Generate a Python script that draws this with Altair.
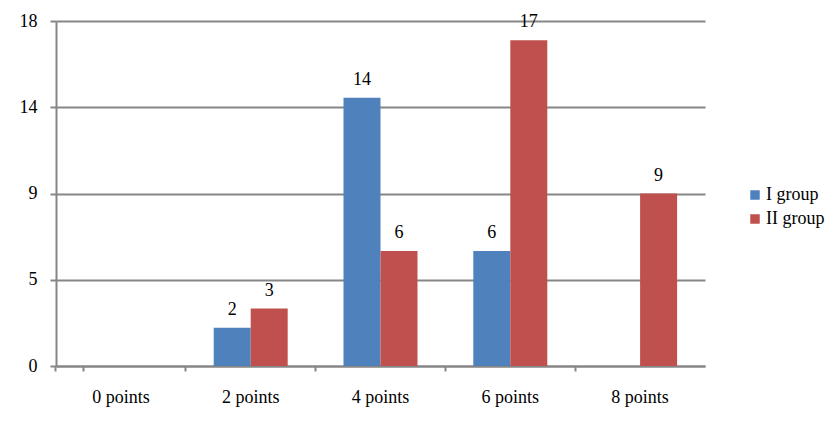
import altair as alt
import pandas as pd

categories = ["0 points", "2 points", "4 points", "6 points", "8 points"]
groups = ["I group", "II group"]
group1 = [0, 2, 14, 6, 0]
group2 = [0, 3, 6, 17, 9]
y_ticks = [0, 4.5, 9, 13.5, 18]
colors = ["#4F81BD", "#C0504D"]

rows = []
for c, a, b in zip(categories, group1, group2):
    rows.append({"cat": c, "group": groups[0], "value": a})
    rows.append({"cat": c, "group": groups[1], "value": b})
df = pd.DataFrame(rows)

FONT = "Liberation Serif"
GRID = "#868686"
PI = 0.43
FS = 18

x = alt.X("cat:N", sort=categories,
          scale=alt.Scale(paddingInner=PI, paddingOuter=PI / 2),
          axis=alt.Axis(title=None, labelAngle=0, labelFont=FONT, labelFontSize=FS,
                        labelColor="#000000", labelPadding=17,
                        bandPosition=-(PI / 2) / (1 - PI), tickExtra=True,
                        tickSize=5, tickColor=GRID, tickWidth=2,
                        domainColor=GRID, domainWidth=2, grid=False))
xo = alt.XOffset("group:N", sort=groups, scale=alt.Scale(paddingInner=0, paddingOuter=0))
y = alt.Y("value:Q", scale=alt.Scale(domain=[0, 18], nice=False),
          axis=alt.Axis(title=None, values=y_ticks, labelExpr="round(datum.value)",
                        labelFont=FONT, labelFontSize=FS, labelColor="#000000",
                        labelPadding=13, tickSize=6, tickColor=GRID, tickWidth=2,
                        domainColor=GRID, domainWidth=2,
                        grid=True, gridColor=GRID, gridWidth=2))

color = alt.Color("group:N", sort=groups,
                  scale=alt.Scale(domain=groups, range=colors),
                  legend=alt.Legend(title=None, orient="none", legendX=690, legendY=165,
                                    labelFont=FONT, labelFontSize=FS, labelColor="#000000",
                                    symbolType="square", symbolSize=90, symbolStrokeWidth=0,
                                    rowPadding=6, labelOffset=2))

base = alt.Chart(df)
bars = base.mark_bar().encode(x=x, xOffset=xo, y=y, color=color)
labels = base.transform_filter("datum.value > 0").mark_text(
    font=FONT, fontSize=FS, color="#000000", baseline="bottom", dy=-9
).encode(x=x, xOffset=xo, y=y, text="value:Q")

chart = alt.layer(bars, labels).properties(
    width=649, height=345,
    autosize=alt.AutoSizeParams(type="none"),
    padding={"left": 48, "top": 13, "right": 120, "bottom": 46},
).configure_view(stroke=None)

chart.save("out.html", embed_options={"renderer": "svg", "actions": False})
